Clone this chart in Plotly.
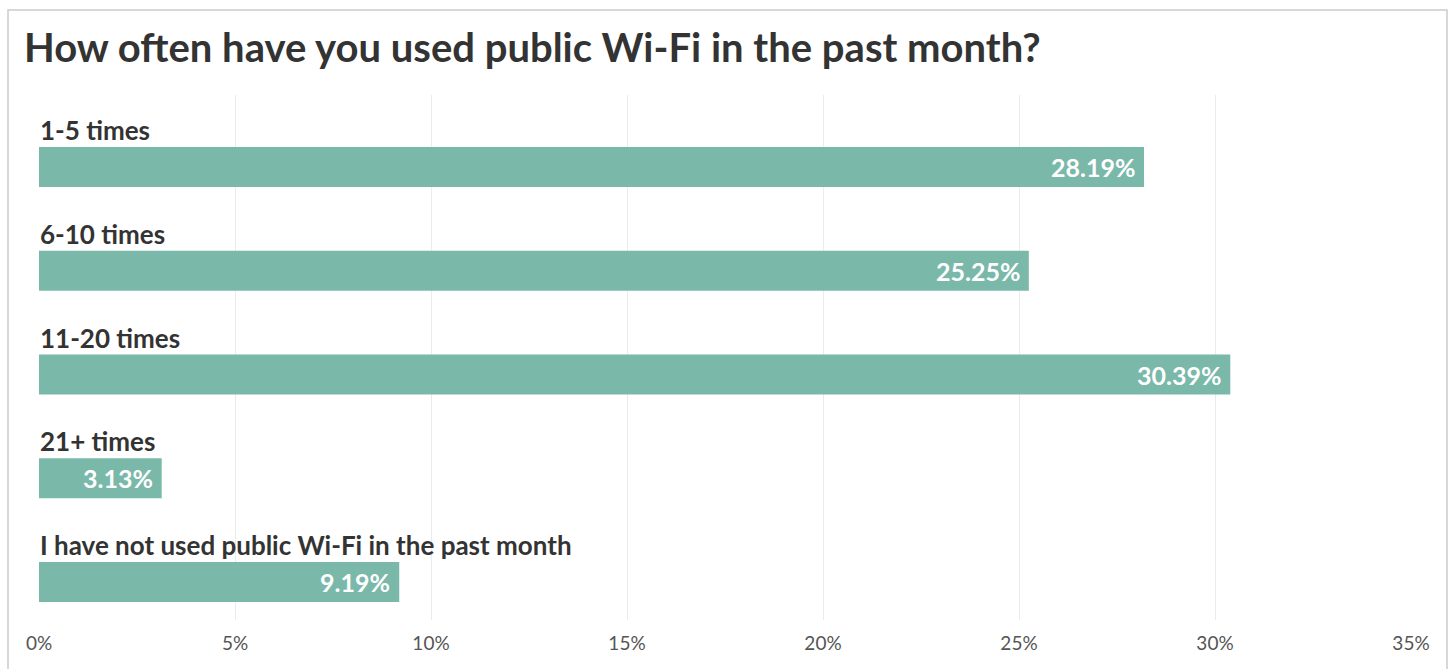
import plotly.graph_objects as go

categories = ["1-5 times", "6-10 times", "11-20 times", "21+ times",
              "I have not used public Wi-Fi in the past month"]
values = [28.19, 25.25, 30.39, 3.13, 9.19]
tick_vals = [0, 5, 10, 15, 20, 25, 30, 35]
tick_text = [f"{v}%" for v in tick_vals]
title_text = "How often have you used public Wi-Fi in the past month?"

BAR = "#7ab8aa"
FONT = "Lato"
W, H = 1450, 669
L, R, T, B = 39, 39, 95, 49

positions = list(range(len(categories)))

fig = go.Figure()
fig.add_trace(go.Bar(
    x=values, y=positions, orientation="h",
    marker=dict(color=BAR, line=dict(width=0)),
    width=0.386, hoverinfo="skip",
))

for p, c, v in zip(positions, categories, values):
    fig.add_annotation(x=0, y=p, text=f"<b>{c}</b>", showarrow=False,
                       xanchor="left", yanchor="middle", yshift=37, xshift=-1,
                       font=dict(family=FONT, size=26, color="#333333"))
    fig.add_annotation(x=v, y=p, text=f"<b>{v:.2f}%</b>", showarrow=False,
                       xanchor="right", yanchor="middle", xshift=-7,
                       font=dict(family=FONT, size=25, color="#ffffff"))

pw = W - L - R
ph = H - T - B
fig.add_shape(type="rect", xref="paper", yref="paper",
              x0=(8 - L) / pw, x1=(1447 - L) / pw,
              y0=(H - B - 700) / ph, y1=(H - B - 10) / ph,
              line=dict(color="#cccccc", width=1.5), fillcolor="rgba(0,0,0,0)",
              layer="below")

fig.update_layout(
    width=W, height=H,
    margin=dict(l=L, r=R, t=T, b=B),
    paper_bgcolor="white", plot_bgcolor="white",
    showlegend=False,
    title=dict(text=f"<b>{title_text}</b>", xref="container", yref="container",
               x=24 / W, xanchor="left", y=1 - 48 / H, yanchor="middle",
               font=dict(family=FONT, size=40, color="#333333")),
    xaxis=dict(range=[0, 35], tickvals=tick_vals, ticktext=tick_text,
               showgrid=True, gridcolor="#ebebeb", gridwidth=1,
               zeroline=False, showline=False, ticks="",
               tickfont=dict(family=FONT, size=19, color="#555555"),
               ticklabelstandoff=10, fixedrange=True),
    yaxis=dict(range=[4.366, -0.694], showticklabels=False, showgrid=False,
               zeroline=False, showline=False, fixedrange=True),
)

fig.write_html("out.html", config={"displayModeBar": False})
